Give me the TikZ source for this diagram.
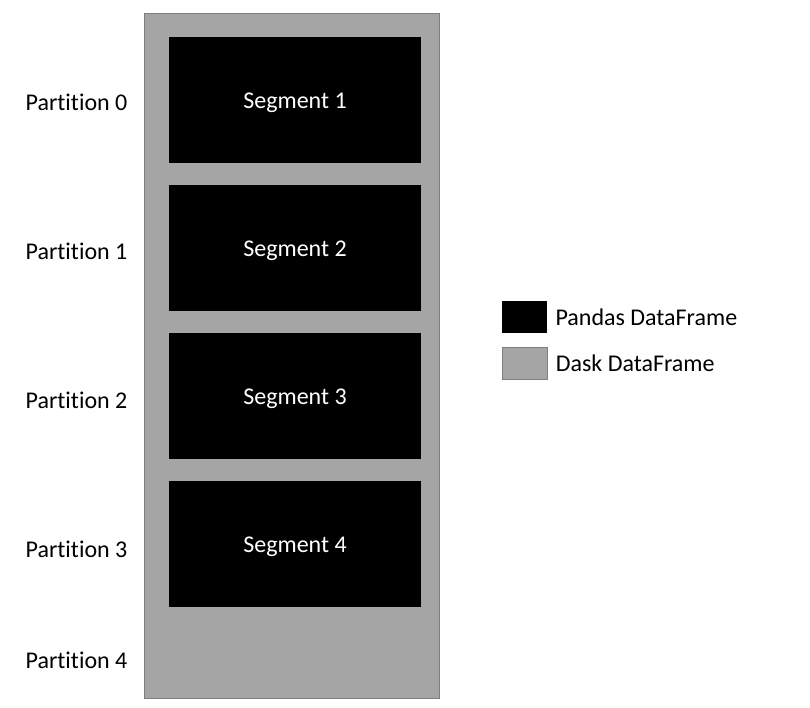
\documentclass[tikz,border=0pt]{standalone}
\usepackage{fontspec}
\setmainfont{Carlito}[Ligatures=NoCommon]
\usetikzlibrary{positioning}
\definecolor{daskgray}{HTML}{A5A5A5}
\definecolor{edgegray}{HTML}{7F7F7F}

\begin{document}
\begin{tikzpicture}[x=0.75pt, y=-0.75pt, font=\fontsize{18}{22}\selectfont,
  daskbox/.style={draw=edgegray, fill=daskgray, line width=0.75pt, inner sep=0pt},
  pandasbox/.style={fill=black, text=white, inner sep=0pt, minimum width=189pt, minimum height=94.5pt,
    text height=16pt, text depth=4pt},
  partlabel/.style={anchor=center, inner sep=0pt}]
  \useasboundingbox (0,0) rectangle (810,707);
  %% Dask DataFrame (gray column)
  \node[daskbox, minimum width=221.25pt, minimum height=513.75pt] (dask) at (291.5,355.5) {};
  %% Segments (Pandas DataFrames)
  \node[pandasbox] (seg1) at (295,100) {Segment 1};
  \node[pandasbox] (seg2) at (295,248) {Segment 2};
  \node[pandasbox] (seg3) at (295,396) {Segment 3};
  \node[pandasbox] (seg4) at (295,544) {Segment 4};
  %% Partition labels
  \node[partlabel] (part0) at (76.5,102) {Partition 0};
  \node[partlabel] (part1) at (76.5,251) {Partition 1};
  \node[partlabel] (part2) at (76.5,400) {Partition 2};
  \node[partlabel] (part3) at (76.5,549) {Partition 3};
  \node[partlabel] (part4) at (76.5,660) {Partition 4};
  %% Legend
  \node[fill=black, inner sep=0pt, minimum width=33.75pt, minimum height=24pt] (legpandas) at (524.5,317) {};
  \node[daskbox, minimum width=33.75pt, minimum height=24pt] (legdask) at (524.5,363) {};
  \node[right=6pt of legpandas, inner sep=0pt, yshift=-0.5pt] (txtpandas) {Pandas DataFrame};
  \node[right=6pt of legdask, inner sep=0pt, yshift=-0.5pt] (txtdask) {Dask DataFrame};
\end{tikzpicture}
\end{document}
